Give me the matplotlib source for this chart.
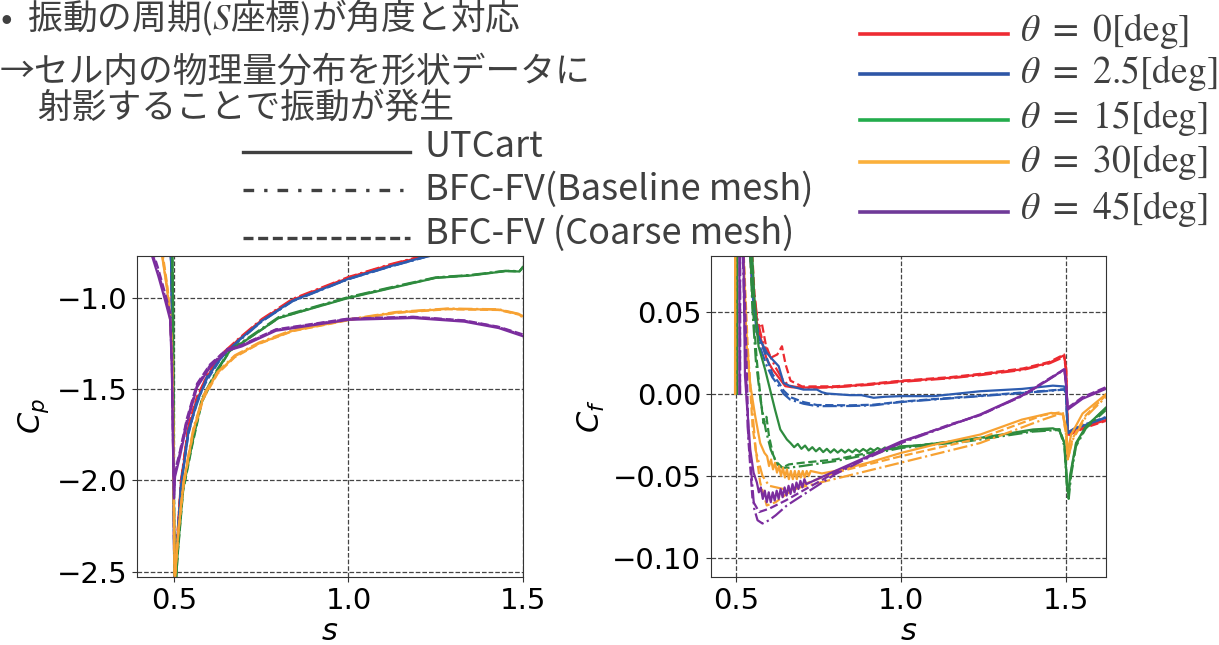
import matplotlib
matplotlib.use('Agg')
import matplotlib.pyplot as plt
from matplotlib.lines import Line2D

plt.rcParams['font.family'] = ['DejaVu Sans']

# angles and colours
angle_labels = [r'$\theta\ =\ 0[\mathrm{deg}]$', r'$\theta\ =\ 2.5[\mathrm{deg}]$', r'$\theta\ =\ 15[\mathrm{deg}]$',
                r'$\theta\ =\ 30[\mathrm{deg}]$', r'$\theta\ =\ 45[\mathrm{deg}]$']
plot_colors = ['#ec2a30', '#2d5caf', '#2e8b3e', '#f7a233', '#7b2d9e']
legend_colors = ['#ee2b33', '#2e56a6', '#23ac4c', '#fbb03b', '#6f3a98']
method_labels = ['UTCart', 'BFC-FV(Baseline mesh)', 'BFC-FV (Coarse mesh)']
method_styles = ['-', '-.', '--']
legend_styles = ['-', (0, (3.2, 3.0, 1.0, 3.0)), (0, (3.0, 1.4))]

#==============================================
# Cp data (s, UTCart, Baseline, Coarse)
#==============================================
cp_s_0 = [0.488, 0.492, 0.495, 0.498, 0.501, 0.503, 0.509, 0.520, 0.541, 0.566, 0.595, 0.635, 0.684, 0.752, 0.840, 1.000, 1.120, 1.224, 1.300]
cp_ut_0 = [-0.60, -0.80, -1.10, -1.70, -2.60, -2.50, -2.35, -2.02, -1.72, -1.56, -1.43, -1.32, -1.23, -1.12, -1.01, -0.89, -0.82, -0.767, -0.73]
cp_base_0 = [-0.60, -0.80, -1.12, -1.72, -2.60, -2.48, -2.33, -2.00, -1.71, -1.55, -1.42, -1.31, -1.225, -1.115, -1.005, -0.885, -0.815, -0.764, -0.73]
cp_coarse_0 = [-0.60, -0.81, -1.12, -1.75, -2.60, -2.47, -2.32, -2.01, -1.70, -1.54, -1.43, -1.32, -1.23, -1.12, -1.01, -0.888, -0.818, -0.765, -0.73]

cp_s_2 = [0.488, 0.492, 0.495, 0.498, 0.501, 0.503, 0.509, 0.520, 0.541, 0.566, 0.595, 0.635, 0.684, 0.752, 0.840, 1.000, 1.120, 1.224, 1.300]
cp_ut_2 = [-0.62, -0.82, -1.15, -1.75, -2.60, -2.52, -2.37, -2.04, -1.74, -1.57, -1.44, -1.325, -1.235, -1.125, -1.015, -0.895, -0.826, -0.772, -0.74]
cp_base_2 = [-0.62, -0.82, -1.16, -1.76, -2.60, -2.51, -2.36, -2.03, -1.73, -1.58, -1.43, -1.33, -1.24, -1.128, -1.018, -0.897, -0.828, -0.774, -0.74]
cp_coarse_2 = [-0.62, -0.83, -1.16, -1.77, -2.60, -2.50, -2.35, -2.02, -1.75, -1.56, -1.45, -1.33, -1.235, -1.127, -1.016, -0.896, -0.827, -0.773, -0.74]

cp_s_15 = [0.494, 0.497, 0.499, 0.501, 0.504, 0.511, 0.526, 0.552, 0.580, 0.623, 0.660, 0.700, 0.800, 0.900, 1.000, 1.125, 1.250, 1.350, 1.450, 1.490, 1.500]
cp_ut_15 = [-0.60, -1.00, -1.80, -2.40, -2.60, -2.385, -2.05, -1.80, -1.56, -1.40, -1.29, -1.24, -1.11, -1.055, -1.00, -0.945, -0.89, -0.877, -0.853, -0.855, -0.83]
cp_base_15 = [-0.60, -1.00, -1.82, -2.42, -2.60, -2.37, -2.04, -1.79, -1.55, -1.395, -1.285, -1.235, -1.105, -1.05, -0.995, -0.94, -0.887, -0.874, -0.851, -0.853, -0.83]
cp_coarse_15 = [-0.60, -1.02, -1.84, -2.44, -2.60, -2.40, -2.06, -1.81, -1.57, -1.405, -1.29, -1.24, -1.11, -1.053, -0.998, -0.943, -0.889, -0.876, -0.852, -0.854, -0.83]

cp_s_30 = [0.440, 0.466, 0.480, 0.489, 0.494, 0.497, 0.500, 0.502, 0.512, 0.527, 0.556, 0.585, 0.625, 0.674, 0.743, 0.840, 1.000, 1.136, 1.283, 1.430, 1.490, 1.500]
cp_ut_30 = [-0.65, -0.77, -0.95, -1.12, -1.30, -1.60, -2.20, -2.56, -2.29, -2.02, -1.72, -1.54, -1.41, -1.32, -1.25, -1.18, -1.12, -1.08, -1.06, -1.064, -1.09, -1.10]
cp_base_30 = [-0.64, -0.76, -0.94, -1.10, -1.28, -1.58, -2.20, -2.56, -2.28, -2.01, -1.71, -1.53, -1.405, -1.315, -1.245, -1.175, -1.117, -1.077, -1.058, -1.062, -1.088, -1.10]
cp_coarse_30 = [-0.62, -0.74, -0.92, -1.08, -1.27, -1.57, -2.20, -2.56, -2.30, -2.03, -1.73, -1.55, -1.415, -1.325, -1.252, -1.182, -1.122, -1.082, -1.062, -1.066, -1.092, -1.11]

cp_s_45 = [0.420, 0.437, 0.455, 0.474, 0.489, 0.494, 0.497, 0.500, 0.503, 0.517, 0.537, 0.566, 0.603, 0.652, 0.694, 0.792, 1.000, 1.185, 1.332, 1.430, 1.500]
cp_ut_45 = [-0.65, -0.77, -0.88, -1.01, -1.12, -1.40, -1.80, -2.10, -1.98, -1.87, -1.69, -1.49, -1.38, -1.29, -1.266, -1.18, -1.12, -1.11, -1.13, -1.165, -1.21]
cp_base_45 = [-0.63, -0.75, -0.86, -0.99, -1.10, -1.38, -1.78, -2.08, -1.96, -1.85, -1.67, -1.48, -1.37, -1.285, -1.26, -1.175, -1.115, -1.105, -1.125, -1.16, -1.205]
cp_coarse_45 = [-0.61, -0.73, -0.84, -0.97, -1.08, -1.36, -1.76, -2.06, -1.95, -1.84, -1.66, -1.47, -1.365, -1.28, -1.258, -1.172, -1.113, -1.103, -1.123, -1.158, -1.20]

#==============================================
# Cf data
#==============================================
cf_s_0_ut = [0.500, 0.503, 0.538, 0.548, 0.560, 0.573, 0.593, 0.610, 0.634, 0.649, 0.670, 0.700, 0.800, 0.900, 1.000, 1.150, 1.240, 1.370, 1.450, 1.494, 1.500, 1.505, 1.520, 1.560, 1.620]
cf_0_ut = [0.000, 0.150, 0.100, 0.068, 0.046, 0.035, 0.021, 0.015, 0.0087, 0.0047, 0.0040, 0.0038, 0.0042, 0.0057, 0.0077, 0.0098, 0.0118, 0.0150, 0.0190, 0.0235, 0.0150, -0.0250, -0.0235, -0.0200, -0.0160]
cf_s_0_base = [0.500, 0.503, 0.540, 0.552, 0.565, 0.580, 0.600, 0.620, 0.640, 0.660, 0.700, 0.800, 0.900, 1.000, 1.150, 1.240, 1.370, 1.450, 1.494, 1.500, 1.505, 1.520, 1.560, 1.620]
cf_0_base = [0.000, 0.150, 0.100, 0.066, 0.045, 0.032, 0.024, 0.016, 0.009, 0.005, 0.0036, 0.0040, 0.0054, 0.0073, 0.0095, 0.0114, 0.0146, 0.0186, 0.0225, 0.0140, -0.0245, -0.0230, -0.0195, -0.0158]
cf_s_0_coarse = [0.500, 0.503, 0.545, 0.556, 0.566, 0.578, 0.590, 0.605, 0.625, 0.639, 0.650, 0.665, 0.700, 0.800, 0.900, 1.000, 1.150, 1.240, 1.370, 1.450, 1.494, 1.500, 1.505, 1.520, 1.560, 1.620]
cf_0_coarse = [0.000, 0.150, 0.100, 0.060, 0.040, 0.043, 0.030, 0.022, 0.024, 0.029, 0.018, 0.008, 0.0045, 0.0046, 0.0060, 0.0080, 0.0102, 0.0122, 0.0155, 0.0195, 0.0240, 0.0160, -0.0255, -0.0240, -0.0205, -0.0165]

cf_s_2_ut = [0.500, 0.505, 0.540, 0.550, 0.563, 0.593, 0.610, 0.629, 0.644, 0.664, 0.704, 0.745, 0.760, 0.775, 0.846, 0.880, 0.917, 0.950, 0.998, 1.099, 1.240, 1.366, 1.460, 1.494, 1.500, 1.505, 1.530, 1.620]
cf_2_ut = [0.000, 0.150, 0.100, 0.060, 0.037, 0.025, 0.021, 0.0169, 0.0067, 0.0047, 0.0026, 0.0026, 0.0010, 0.0002, -0.0008, -0.0008, -0.0024, -0.0018, -0.0014, -0.0014, 0.0016, 0.0030, 0.0050, 0.0045, 0.0020, -0.0240, -0.0210, -0.0146]
cf_s_2_base = [0.500, 0.505, 0.540, 0.552, 0.570, 0.593, 0.610, 0.629, 0.644, 0.664, 0.704, 0.745, 0.846, 0.917, 0.998, 1.099, 1.240, 1.366, 1.460, 1.494, 1.500, 1.505, 1.530, 1.620]
cf_2_base = [0.000, 0.150, 0.100, 0.055, 0.030, 0.017, 0.010, 0.005, 0.000, -0.0035, -0.0060, -0.0075, -0.0074, -0.0070, -0.0050, -0.0035, -0.0014, 0.0005, 0.0020, 0.0026, 0.0005, -0.0235, -0.0205, -0.0142]
cf_s_2_coarse = [0.500, 0.505, 0.540, 0.552, 0.570, 0.593, 0.610, 0.629, 0.644, 0.664, 0.704, 0.745, 0.846, 0.917, 0.998, 1.099, 1.240, 1.366, 1.460, 1.494, 1.500, 1.505, 1.530, 1.620]
cf_2_coarse = [0.000, 0.150, 0.100, 0.058, 0.034, 0.022, 0.012, 0.007, 0.002, -0.002, -0.0050, -0.0068, -0.0070, -0.0066, -0.0048, -0.0032, -0.0012, 0.0008, 0.0022, 0.0028, 0.0008, -0.0238, -0.0208, -0.0144]

cf_s_15_ut = [0.503, 0.5035, 0.545, 0.555, 0.568, 0.588, 0.603, 0.618, 0.634, 0.654,
              0.665, 0.676, 0.687, 0.698, 0.709, 0.720, 0.731, 0.742, 0.753, 0.764, 0.775, 0.786, 0.797, 0.808, 0.819, 0.830,
              0.841, 0.852, 0.863, 0.874, 0.885, 0.896, 0.907, 0.918, 0.929, 0.940, 0.951, 0.962, 0.973, 0.984, 0.995,
              1.050, 1.200, 1.300, 1.400, 1.460, 1.480, 1.495, 1.503, 1.507, 1.512, 1.530, 1.560, 1.620]
cf_15_ut = [0.000, 0.150, 0.100, 0.060, 0.029, 0.0148, 0.0026, -0.0096, -0.0217, -0.0278,
            -0.0300, -0.0325, -0.0305, -0.0335, -0.0315, -0.0345, -0.0325, -0.0350, -0.0330, -0.0355, -0.0335, -0.0358, -0.0338, -0.0358, -0.0340, -0.0358,
            -0.0340, -0.0356, -0.0338, -0.0354, -0.0336, -0.0350, -0.0333, -0.0346, -0.0330, -0.0342, -0.0327, -0.0338, -0.0324, -0.0334, -0.0320,
            -0.0315, -0.0280, -0.0250, -0.0217, -0.0210, -0.0225, -0.0300, -0.0550, -0.0620, -0.0500, -0.0300, -0.0200, -0.0085]
cf_s_15_base = [0.503, 0.5035, 0.540, 0.550, 0.560, 0.575, 0.590, 0.605, 0.620, 0.640, 0.660, 0.700, 0.800, 0.900, 1.000, 1.200, 1.400, 1.480, 1.495, 1.503, 1.508, 1.515, 1.530, 1.560, 1.620]
cf_15_base = [0.000, 0.150, 0.100, 0.050, 0.020, -0.005, -0.022, -0.034, -0.041, -0.045, -0.045, -0.044, -0.041, -0.037, -0.033, -0.029, -0.023, -0.022, -0.032, -0.058, -0.064, -0.050, -0.032, -0.021, -0.010]
cf_s_15_coarse = [0.503, 0.5035, 0.540, 0.550, 0.563, 0.573, 0.583, 0.592, 0.600, 0.612, 0.625, 0.640, 0.660, 0.700, 0.800, 0.900, 1.000, 1.200, 1.400, 1.480, 1.495, 1.503, 1.508, 1.515, 1.530, 1.560, 1.620]
cf_15_coarse = [0.000, 0.150, 0.100, 0.055, 0.020, 0.000, -0.018, -0.014, -0.026, -0.037, -0.043, -0.045, -0.043, -0.042, -0.040, -0.036, -0.0325, -0.028, -0.0225, -0.0215, -0.030, -0.055, -0.060, -0.048, -0.031, -0.020, -0.009]

cf_s_30_ut = [0.497, 0.4972, 0.515, 0.522, 0.532, 0.542, 0.558, 0.573, 0.586,
              0.594, 0.600, 0.606, 0.612, 0.618, 0.624, 0.630, 0.636, 0.642, 0.648, 0.654, 0.660, 0.666, 0.672, 0.678, 0.684,
              0.690, 0.696, 0.702, 0.708, 0.714, 0.720, 0.726,
              0.760, 0.800, 0.900, 1.000, 1.100, 1.240, 1.366, 1.455, 1.490, 1.500, 1.505, 1.515, 1.550, 1.620]
cf_30_ut = [0.000, 0.150, 0.120, 0.090, 0.030, 0.0067, -0.0136, -0.0300, -0.036,
            -0.038, -0.044, -0.040, -0.046, -0.042, -0.048, -0.044, -0.050, -0.045, -0.051, -0.046, -0.052, -0.047, -0.052, -0.047, -0.052,
            -0.047, -0.051, -0.047, -0.051, -0.047, -0.050, -0.047,
            -0.0485, -0.0470, -0.0420, -0.0360, -0.0310, -0.0248, -0.0157, -0.0116, -0.0126, -0.0200, -0.0360, -0.0250, -0.0120, -0.0004]
cf_s_30_base = [0.497, 0.4972, 0.520, 0.530, 0.545, 0.560, 0.580, 0.600, 0.644, 0.694, 0.796, 0.897, 0.998, 1.239, 1.430, 1.490, 1.500, 1.505, 1.520, 1.560, 1.620]
cf_30_base = [0.000, 0.150, 0.100, 0.040, 0.000, -0.035, -0.050, -0.056, -0.058, -0.057, -0.052, -0.047, -0.042, -0.030, -0.0157, -0.0116, -0.0250, -0.0400, -0.0280, -0.0140, -0.0020]
cf_s_30_coarse = [0.497, 0.4972, 0.520, 0.535, 0.550, 0.573, 0.593, 0.620, 0.660, 0.720, 0.800, 0.900, 1.000, 1.240, 1.430, 1.490, 1.500, 1.505, 1.520, 1.560, 1.620]
cf_30_coarse = [0.000, 0.150, 0.100, 0.030, -0.020, -0.054, -0.068, -0.066, -0.060, -0.054, -0.048, -0.043, -0.038, -0.027, -0.013, -0.011, -0.025, -0.040, -0.027, -0.013, -0.001]

cf_s_45_ut = [0.510, 0.5102, 0.522, 0.527, 0.532, 0.543, 0.553,
              0.563, 0.569, 0.575, 0.581, 0.587, 0.593, 0.599, 0.605, 0.611, 0.617, 0.623, 0.629, 0.635, 0.641, 0.647, 0.653,
              0.659, 0.665, 0.671, 0.677, 0.683, 0.689, 0.695, 0.701, 0.707, 0.713,
              0.800, 0.900, 1.000, 1.150, 1.240, 1.366, 1.430, 1.480, 1.495, 1.500, 1.505, 1.550, 1.620]
cf_45_ut = [0.000, 0.150, 0.090, 0.011, -0.0035, -0.034, -0.048,
            -0.054, -0.060, -0.057, -0.064, -0.059, -0.066, -0.060, -0.066, -0.060, -0.065, -0.059, -0.064, -0.058, -0.063, -0.057, -0.062,
            -0.056, -0.061, -0.055, -0.060, -0.054, -0.058, -0.053, -0.057, -0.052, -0.055,
            -0.0470, -0.0380, -0.0290, -0.0190, -0.0125, -0.0010, 0.0065, 0.0130, 0.0148, 0.0050, -0.0096, -0.0030, 0.0030]
cf_s_45_base = [0.512, 0.5122, 0.525, 0.535, 0.545, 0.555, 0.565, 0.580, 0.600, 0.620, 0.654, 0.715, 0.800, 0.900, 1.000, 1.150, 1.240, 1.366, 1.430, 1.480, 1.495, 1.500, 1.505, 1.550, 1.620]
cf_45_base = [0.000, 0.150, 0.050, -0.020, -0.045, -0.070, -0.077, -0.079, -0.077, -0.074, -0.068, -0.060, -0.049, -0.039, -0.030, -0.019, -0.0128, -0.0015, 0.0065, 0.0128, 0.0150, 0.0060, -0.0090, -0.0025, 0.0035]
cf_s_45_coarse = [0.512, 0.5122, 0.528, 0.538, 0.550, 0.570, 0.600, 0.650, 0.720, 0.800, 0.900, 1.000, 1.150, 1.240, 1.366, 1.430, 1.480, 1.495, 1.500, 1.505, 1.550, 1.620]
cf_45_coarse = [0.000, 0.150, 0.050, -0.030, -0.065, -0.072, -0.070, -0.065, -0.057, -0.048, -0.0385, -0.0295, -0.0185, -0.0130, -0.0012, 0.0070, 0.0132, 0.0152, 0.0060, -0.0085, -0.0020, 0.0040]

cp_sets = [
    (cp_s_0, [cp_ut_0, cp_base_0, cp_coarse_0]),
    (cp_s_2, [cp_ut_2, cp_base_2, cp_coarse_2]),
    (cp_s_15, [cp_ut_15, cp_base_15, cp_coarse_15]),
    (cp_s_30, [cp_ut_30, cp_base_30, cp_coarse_30]),
    (cp_s_45, [cp_ut_45, cp_base_45, cp_coarse_45]),
]
cf_sets = [
    [(cf_s_0_ut, cf_0_ut), (cf_s_0_base, cf_0_base), (cf_s_0_coarse, cf_0_coarse)],
    [(cf_s_2_ut, cf_2_ut), (cf_s_2_base, cf_2_base), (cf_s_2_coarse, cf_2_coarse)],
    [(cf_s_15_ut, cf_15_ut), (cf_s_15_base, cf_15_base), (cf_s_15_coarse, cf_15_coarse)],
    [(cf_s_30_ut, cf_30_ut), (cf_s_30_base, cf_30_base), (cf_s_30_coarse, cf_30_coarse)],
    [(cf_s_45_ut, cf_45_ut), (cf_s_45_base, cf_45_base), (cf_s_45_coarse, cf_45_coarse)],
]

text_gray = '#404040'

fig = plt.figure(figsize=(12.19, 6.45), dpi=100)
ax_cp = fig.add_axes([137 / 1219, 68 / 645, 386 / 1219, 321 / 645])
ax_cf = fig.add_axes([711 / 1219, 68 / 645, 395 / 1219, 321 / 645])

# draw coarse first, UTCart on top
for i, (s, vals) in enumerate(cp_sets):
    for j in [2, 1, 0]:
        ax_cp.plot(s, vals[j], color=plot_colors[i], linestyle=method_styles[j], linewidth=1.6)
for i, curves in enumerate(cf_sets):
    for j in [2, 1, 0]:
        s, v = curves[j]
        ax_cf.plot(s, v, color=plot_colors[i], linestyle=method_styles[j], linewidth=1.6)

ax_cp.set_xlim(0.394, 1.5)
ax_cp.set_ylim(-2.53, -0.77)
ax_cp.set_xticks([0.5, 1.0, 1.5])
ax_cp.set_yticks([-2.5, -2.0, -1.5, -1.0])
ax_cp.set_ylabel('$C_p$', fontsize=22, labelpad=4)

ax_cf.set_xlim(0.424, 1.621)
ax_cf.set_ylim(-0.1116, 0.084)
ax_cf.set_xticks([0.5, 1.0, 1.5])
ax_cf.set_yticks([-0.10, -0.05, 0.00, 0.05])
ax_cf.set_ylabel('$C_f$', fontsize=22, labelpad=4)

for ax in [ax_cp, ax_cf]:
    ax.set_xlabel('$s$', fontsize=22, labelpad=2)
    ax.tick_params(labelsize=21, color='#333333')
    for lab in ax.get_xticklabels() + ax.get_yticklabels():
        lab.set_fontfamily('DejaVu Sans')
    ax.grid(True, linestyle='--', color='#444444', linewidth=0.9)
    for sp in ax.spines.values():
        sp.set_color('#333333')

# ---- slide text ----
jp = ['Noto Sans CJK JP', 'DejaVu Sans']
fig.text(0.0, 1 - 18 / 645, '•  振動の周期($S$座標)が角度と対応', family=jp, math_fontfamily='stix',
         fontsize=25, color=text_gray, va='center', ha='left')
fig.text(0.0, 1 - 72 / 645, '→セル内の物理量分布を形状データに', family=jp,
         fontsize=25, color=text_gray, va='center', ha='left')
fig.text(37 / 1219, 1 - 108 / 645, '射影することで振動が発生', family=jp,
         fontsize=25, color=text_gray, va='center', ha='left')

# line style legend
style_y = [152, 190, 238]
label_y = [147, 190, 234]
for j in range(3):
    fig.add_artist(Line2D([243 / 1219, 410 / 1219], [1 - style_y[j] / 645] * 2, color=text_gray,
                          linestyle=legend_styles[j], linewidth=2.4))
    fig.text(425 / 1219, 1 - label_y[j] / 645, method_labels[j], family=jp, fontsize=26,
             color=text_gray, va='center', ha='left')

# angle legend
ang_line_y = [34, 74, 120, 162, 212]
ang_text_y = [31, 73, 118, 162, 209]
for i in range(5):
    fig.add_artist(Line2D([860 / 1219, 1008 / 1219], [1 - ang_line_y[i] / 645] * 2,
                          color=legend_colors[i], linewidth=2.6))
    fig.text(1020 / 1219, 1 - ang_text_y[i] / 645, angle_labels[i], math_fontfamily='stix',
             fontsize=27, color=text_gray, va='center', ha='left')

fig.savefig('out.png', dpi=100)
